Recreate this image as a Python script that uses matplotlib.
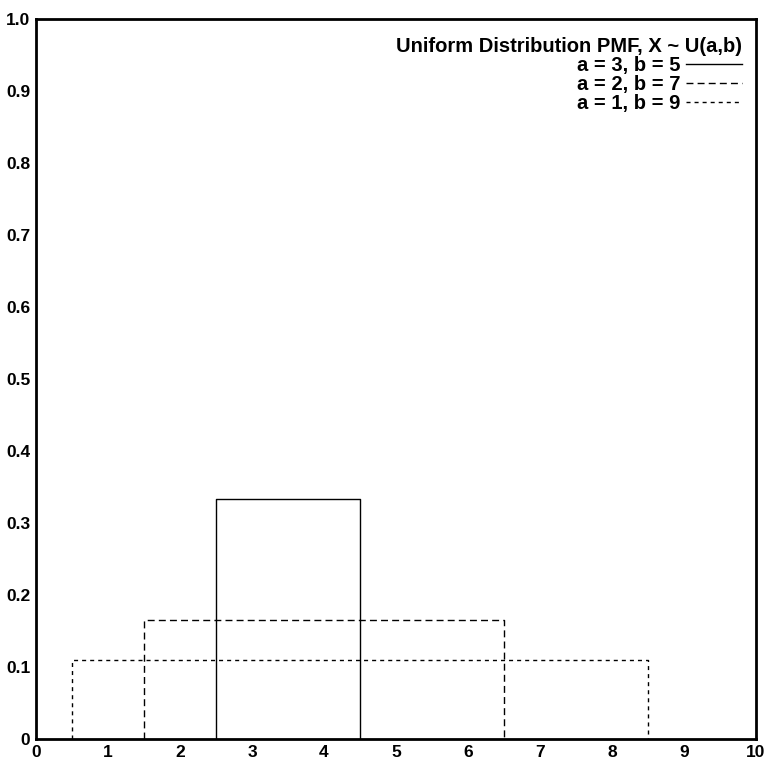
import matplotlib
matplotlib.use("Agg")
import matplotlib.pyplot as plt
from matplotlib.font_manager import FontProperties

plt.rcParams["font.family"] = ["Liberation Sans", "DejaVu Sans"]
plt.rcParams["font.weight"] = "bold"

labels = ["a = 3, b = 5", "a = 2, b = 7", "a = 1, b = 9"]
lefts = [2.5, 1.5, 0.5]
rights = [4.5, 6.5, 8.5]
heights = [0.333, 0.166, 0.110]
styles = ["-", (0, (5, 3)), (0, (2.9, 2.9))]

xticks = list(range(0, 11))
yticks = [0, 0.1, 0.2, 0.3, 0.4, 0.5, 0.6, 0.7, 0.8, 0.9, 1.0]
ytick_labels = ["0", "0.1", "0.2", "0.3", "0.4", "0.5", "0.6", "0.7", "0.8", "0.9", "1.0"]

fig = plt.figure(figsize=(7.68, 7.60), dpi=100)
ax = fig.add_axes([0.0469, 0.0276, 0.9375, 0.947])

for lab, l, r, h, ls in zip(labels, lefts, rights, heights, styles):
    ax.plot([l, l, r, r], [0, h, h, 0], color="black", lw=1.0, linestyle=ls, label=lab)

ax.set_xlim(0, 10)
ax.set_ylim(0, 1.0)
ax.set_xticks(xticks)
ax.set_yticks(yticks)
ax.set_yticklabels(ytick_labels)
ax.tick_params(axis="x", length=0, labelsize=12.5, pad=4.5)
ax.tick_params(axis="y", length=0, labelsize=12.5, pad=4)
for s in ax.spines.values():
    s.set_linewidth(2)

bold = FontProperties(family="Liberation Sans", weight="bold", size=14.5)
leg = ax.legend(title="Uniform Distribution PMF, X ~ U(a,b)", loc="upper right",
                bbox_to_anchor=(1.0, 0.9945),
                frameon=False, markerfirst=False, alignment="right",
                prop=bold, title_fontproperties=bold,
                handlelength=2.78, handletextpad=0.27,
                labelspacing=0.0, borderaxespad=0.3)

fig.savefig("out.png", dpi=100)
